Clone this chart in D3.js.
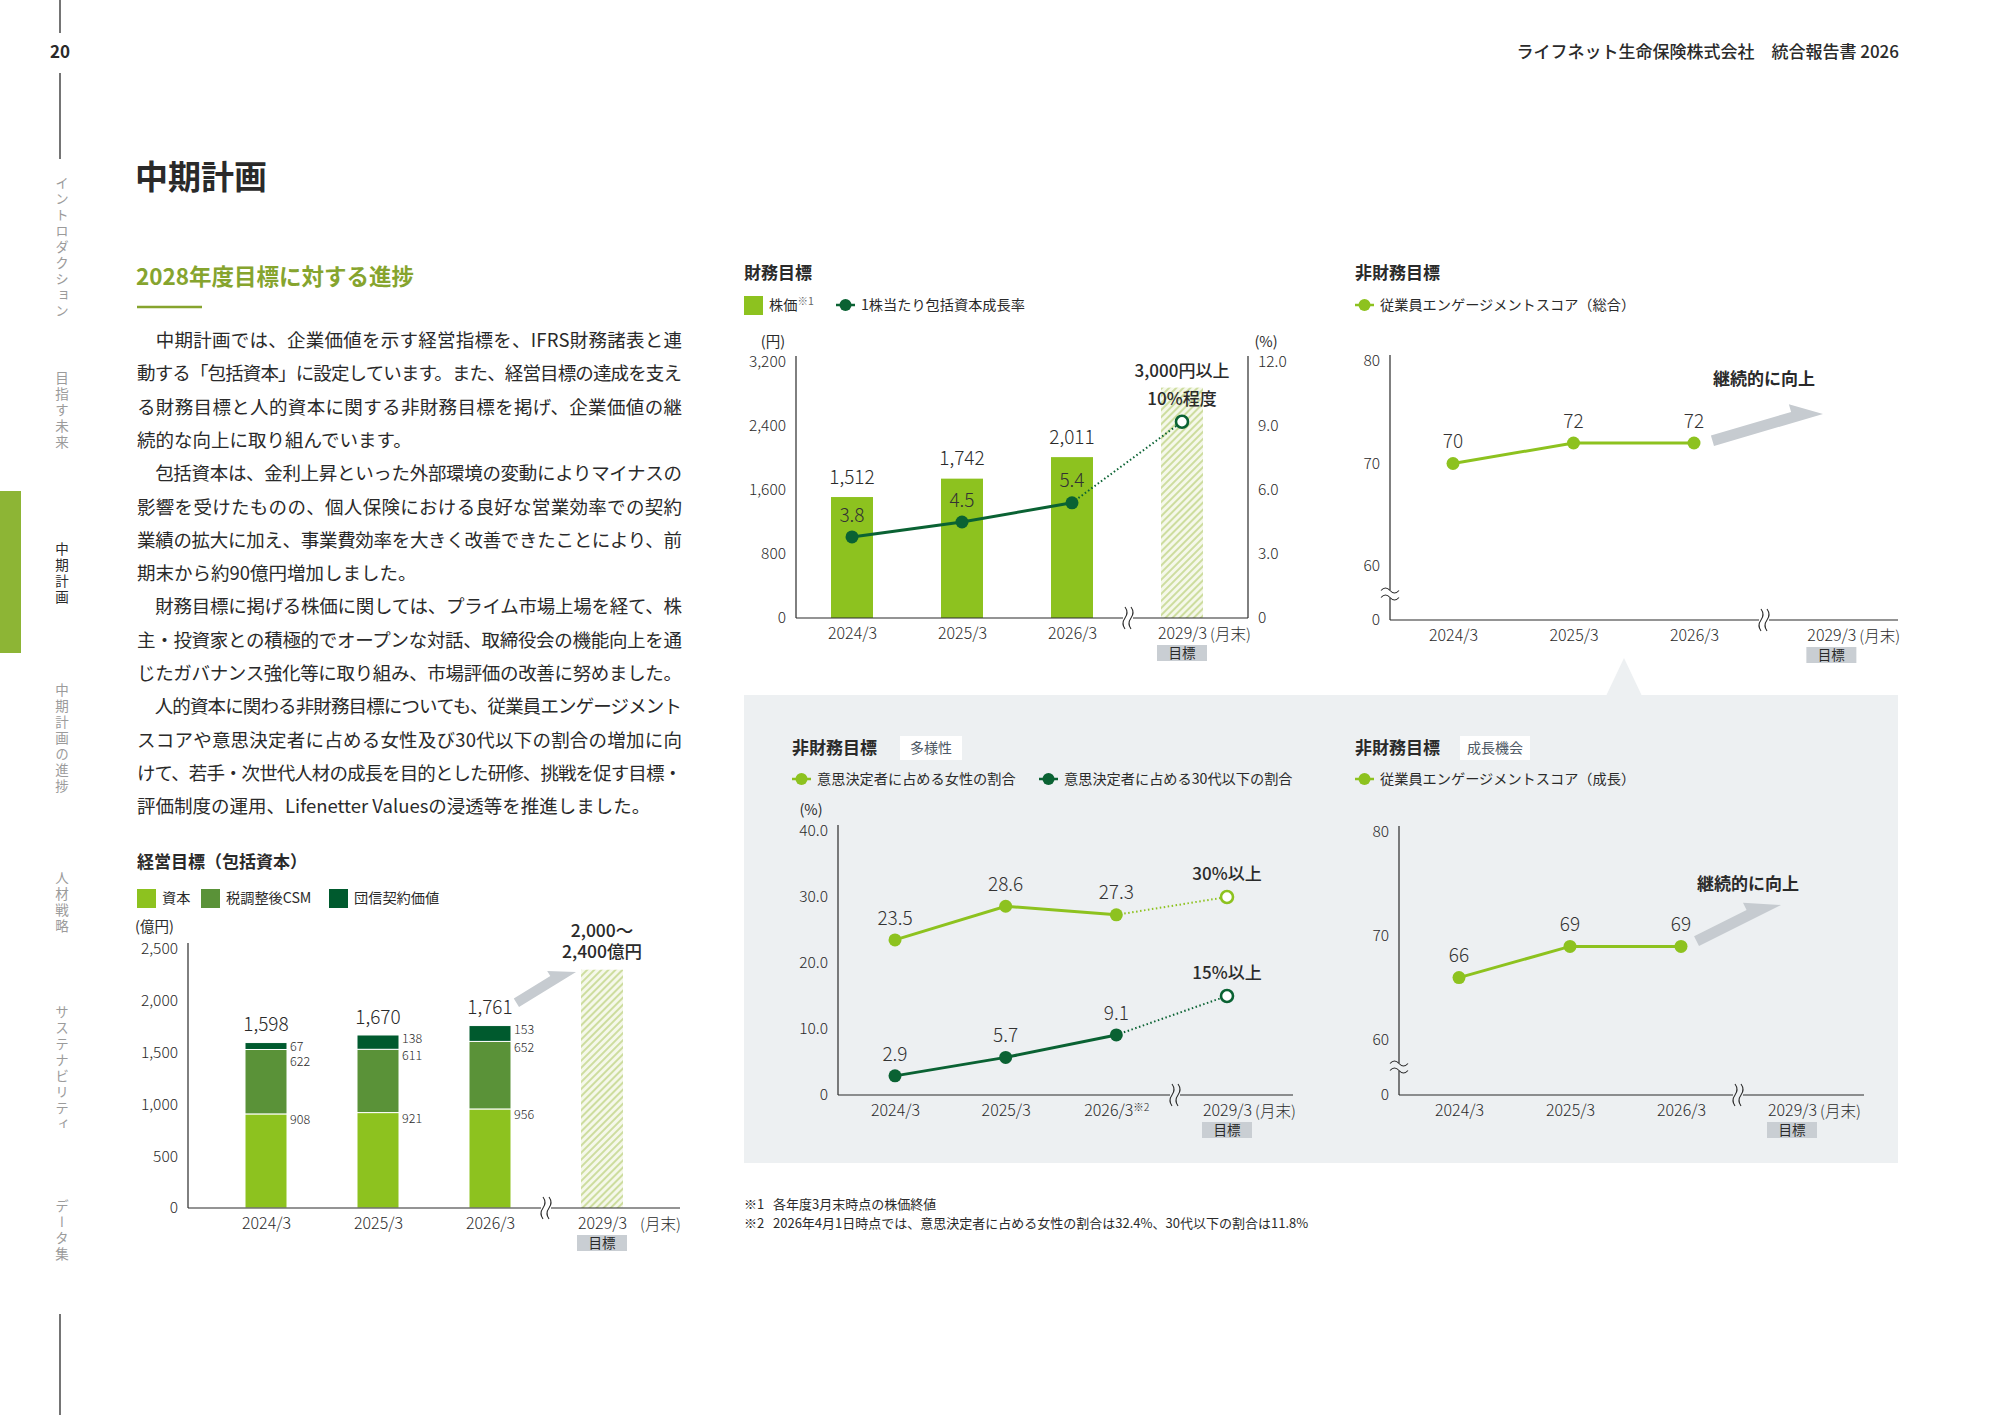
<!DOCTYPE html>
<html>
<head>
<meta charset="utf-8">
<script src="https://cdn.jsdelivr.net/npm/d3@7"></script>
<style>
  body { margin: 0; background: #fff; }
  svg { display: block; font-family: "Noto Sans CJK JP", "Noto Sans", sans-serif; }
</style>
</head>
<body>
<svg id="page" width="2000" height="1415"></svg>
<script>
'use strict';
// ---- chart data
const years = ['2024/3', '2025/3', '2026/3'];
const targetYear = '2029/3';

// 経営目標（包括資本）, 億円
const capitalBase = [908, 921, 956];
const capitalCsm = [622, 611, 652];
const capitalGroup = [67, 138, 153];
const capitalTotals = [1598, 1670, 1761];
const capitalTargetBar = 2300;
const capitalTargetText = ['2,000～', '2,400億円'];
const capitalTicks = [0, 500, 1000, 1500, 2000, 2500];

// 財務目標
const stockPrice = [1512, 1742, 2011];
const stockTargetBar = 2880;
const stockTicks = [0, 800, 1600, 2400, 3200];
const growthRate = [3.8, 4.5, 5.4];
const growthRateTarget = 9.2;
const rateTicks = [0, 3, 6, 9, 12];

// 非財務目標
const engageTotal = [70, 72, 72];
const engageGrowth = [66, 69, 69];
const engageTicks = [0, 60, 70, 80];
const womenShare = [23.5, 28.6, 27.3];
const womenTarget = 30;
const youngShare = [2.9, 5.7, 9.1];
const youngTarget = 15;
const diversityTicks = [0, 10, 20, 30, 40];

const bodyLines = [
    ['　中期計画では、企業価値を示す経営指標を、IFRS財務諸表と連', false],
    ['動する「包括資本」に設定しています。また、経営目標の達成を支え', false],
    ['る財務目標と人的資本に関する非財務目標を掲げ、企業価値の継', false],
    ['続的な向上に取り組んでいます。', true],
    ['　包括資本は、金利上昇といった外部環境の変動によりマイナスの', false],
    ['影響を受けたものの、個人保険における良好な営業効率での契約', false],
    ['業績の拡大に加え、事業費効率を大きく改善できたことにより、前', false],
    ['期末から約90億円増加しました。', true],
    ['　財務目標に掲げる株価に関しては、プライム市場上場を経て、株', false],
    ['主・投資家との積極的でオープンな対話、取締役会の機能向上を通', false],
    ['じたガバナンス強化等に取り組み、市場評価の改善に努めました。', false],
    ['　人的資本に関わる非財務目標についても、従業員エンゲージメント', false],
    ['スコアや意思決定者に占める女性及び30代以下の割合の増加に向', false],
    ['けて、若手・次世代人材の成長を目的とした研修、挑戦を促す目標・', false],
    ['評価制度の運用、Lifenetter Valuesの浸透等を推進しました。', true]
];

const navItems = [
    ['イントロダクション', 176, false],
    ['目指す未来', 371, false],
    ['中期計画', 542, true],
    ['中期計画の進捗', 683, false],
    ['人材戦略', 871, false],
    ['サステナビリティ', 1005, false],
    ['データ集', 1199, false]
];

const footnotes = [
    ['※1', '各年度3月末時点の株価終値'],
    ['※2', '2026年4月1日時点では、意思決定者に占める女性の割合は32.4%、30代以下の割合は11.8%']
];

const C = {
    lime: '#8dc21f', mid: '#5a9238', deep: '#005a2e', line: '#0a6233',
    ink: '#2a2a2a', soft: '#9b9b9b', olive: '#86a42e', panel: '#edf0f2',
    tag: '#c9ced3', arrow: '#c6cbd0'
};

const svg = d3.select('#page');
const defs = svg.append('defs');
const hatch = defs.append('pattern').attr('id', 'hatch')
    .attr('patternUnits', 'userSpaceOnUse').attr('width', 5).attr('height', 5)
    .attr('patternTransform', 'rotate(45)');
hatch.append('rect').attr('width', 5).attr('height', 5).attr('fill', '#f5f8ea');
hatch.append('line').attr('x1', 1).attr('y1', 0).attr('x2', 1).attr('y2', 5)
    .attr('stroke', '#c4d78c').attr('stroke-width', 1.6);

function txt(g, x, y, s, o) {
    o = o || {};
    return g.append('text').attr('x', x).attr('y', y).attr('dy', '0.35em')
        .attr('font-size', o.size || 14).attr('font-weight', o.weight || 400)
        .attr('fill', o.fill || C.ink).attr('text-anchor', o.anchor || 'start').text(s);
}

// wavy break on a horizontal axis
function xBreak(g, x, y, bg) {
    g.append('rect').attr('x', x - 5).attr('y', y - 2).attr('width', 10).attr('height', 4).attr('fill', bg);
    [-3, 3].forEach(function(dx) {
        g.append('path').attr('d', 'M' + (x + dx) + ',' + (y - 11) + ' q4,5.5 0,11 t0,11')
            .attr('fill', 'none').attr('stroke', C.ink).attr('stroke-width', 1.1);
    });
}
// wavy break on a vertical axis
function yBreak(g, x, y, bg) {
    g.append('rect').attr('x', x - 2).attr('y', y - 4).attr('width', 4).attr('height', 8).attr('fill', bg);
    [-3.5, 3.5].forEach(function(dy) {
        g.append('path').attr('d', 'M' + (x - 9) + ',' + (y + dy) + ' q4.5,-5 9,0 t9,0')
            .attr('fill', 'none').attr('stroke', C.ink).attr('stroke-width', 1.1);
    });
}

function blockArrow(g, x1, y1, x2, y2, w, head, barb) {
    const L = Math.hypot(x2 - x1, y2 - y1);
    const a = Math.atan2(y2 - y1, x2 - x1) * 180 / Math.PI;
    const pts = [[0, 0], [L, 0], [L - head, -w - barb], [L - head, -w], [0, -w]];
    g.append('polygon').attr('points', pts.map(function(p) { return p.join(','); }).join(' '))
        .attr('transform', 'translate(' + x1 + ',' + y1 + ') rotate(' + a + ')')
        .attr('fill', C.arrow);
}

function yAxis(g, y, ticks, x0, fmt, side) {
    const ax = (side === 'right' ? d3.axisRight(y) : d3.axisLeft(y))
        .tickValues(ticks).tickSize(0).tickPadding(10).tickFormat(fmt);
    const ga = g.append('g').attr('transform', 'translate(' + x0 + ',0)').call(ax);
    ga.attr('font-family', null).attr('font-size', 15.5);
    ga.select('.domain').remove();
    ga.selectAll('text').attr('fill', C.ink).attr('font-weight', 300);
    g.append('line').attr('x1', x0).attr('x2', x0)
        .attr('y1', y(d3.max(ticks)) - 6).attr('y2', y(0))
        .attr('stroke', C.ink).attr('stroke-width', 1.2);
}

// x axis over category index; the target sits at index tIdx
function xAxis(g, x, y0, x0, x1, tIdx, bg, opt) {
    opt = opt || {};
    const cats = years.concat([targetYear]);
    const idx = [0, 1, 2, tIdx];
    g.append('line').attr('x1', x0).attr('x2', x1).attr('y1', y0).attr('y2', y0)
        .attr('stroke', C.ink).attr('stroke-width', 1.2);
    const ax = d3.axisBottom(x).tickValues(idx).tickSize(0).tickPadding(10)
        .tickFormat(function(d, i) { return cats[i]; });
    const ga = g.append('g').attr('transform', 'translate(0,' + y0 + ')').call(ax);
    ga.attr('font-family', null).attr('font-size', 16);
    ga.select('.domain').remove();
    ga.selectAll('text').attr('fill', C.ink).attr('font-weight', 300);
    if (opt.note) {
        ga.selectAll('text').filter(function(d, i) { return i === 2; })
            .append('tspan').attr('font-size', 10.5).attr('dy', '-0.5em').text(opt.note);
    }
    const tx = x(tIdx);
    txt(g, tx + (opt.monthGap || 28), y0 + 17, '(月末)', { size: 15.5, weight: 300 });
    g.append('rect').attr('x', tx - 25).attr('y', y0 + 27).attr('width', 50).attr('height', 16).attr('fill', C.tag);
    txt(g, tx, y0 + 35, '目標', { size: 13.5, anchor: 'middle' });
    xBreak(g, opt.breakX, y0, bg);
}

function legendSwatch(g, x, y, color, label) {
    g.append('rect').attr('x', x).attr('y', y - 9).attr('width', 19).attr('height', 19).attr('fill', color);
    return txt(g, x + 25, y, label, { size: 14.2 });
}
function legendLine(g, x, y, color, label) {
    g.append('line').attr('x1', x).attr('x2', x + 19).attr('y1', y).attr('y2', y)
        .attr('stroke', color).attr('stroke-width', 2.5);
    g.append('circle').attr('cx', x + 9.5).attr('cy', y).attr('r', 6).attr('fill', color);
    return txt(g, x + 25, y, label, { size: 14.2 });
}

function lineSeries(g, x, y, values, color, target, targetLabel, tIdx) {
    const line = d3.line().x(function(d, i) { return x(i); }).y(function(d) { return y(d); });
    if (target != null) {
        g.append('line').attr('x1', x(values.length - 1)).attr('y1', y(values[values.length - 1]))
            .attr('x2', x(tIdx)).attr('y2', y(target))
            .attr('stroke', color).attr('stroke-width', 2).attr('stroke-dasharray', '1.5,2.5');
    }
    g.append('path').datum(values).attr('d', line)
        .attr('fill', 'none').attr('stroke', color).attr('stroke-width', 3);
    g.selectAll(null).data(values).join('circle')
        .attr('cx', function(d, i) { return x(i); }).attr('cy', function(d) { return y(d); })
        .attr('r', 6.5).attr('fill', color);
    g.selectAll(null).data(values).join('text')
        .attr('x', function(d, i) { return x(i); }).attr('y', function(d) { return y(d) - 22; })
        .attr('dy', '0.35em').attr('text-anchor', 'middle').attr('font-size', 19)
        .attr('font-weight', 300).attr('fill', '#333').text(function(d) { return d; });
    if (target != null) {
        g.append('circle').attr('cx', x(tIdx)).attr('cy', y(target)).attr('r', 6)
            .attr('fill', '#fff').attr('stroke', color).attr('stroke-width', 2.6);
        if (targetLabel) {
            txt(g, x(tIdx), y(target) - 23, targetLabel, { size: 17, weight: 500, anchor: 'middle' });
        }
    }
}

// ---- page frame
const frame = svg.append('g');
frame.append('line').attr('x1', 60).attr('x2', 60).attr('y1', 0).attr('y2', 33).attr('stroke', C.ink).attr('stroke-width', 1.3);
txt(frame, 60, 52, '20', { size: 17, weight: 700, anchor: 'middle' });
frame.append('line').attr('x1', 60).attr('x2', 60).attr('y1', 73).attr('y2', 159).attr('stroke', C.ink).attr('stroke-width', 1.3);
frame.append('line').attr('x1', 60).attr('x2', 60).attr('y1', 1314).attr('y2', 1415).attr('stroke', C.ink).attr('stroke-width', 1.3);
frame.append('rect').attr('x', 0).attr('y', 491).attr('width', 21).attr('height', 162).attr('fill', '#8db535');
navItems.forEach(function(n) {
    frame.append('text').attr('x', 62).attr('y', n[1])
        .style('writing-mode', 'vertical-rl').attr('letter-spacing', 2.5)
        .attr('font-size', 13.5).attr('fill', n[2] ? C.ink : C.soft).text(n[0]);
});
txt(frame, 1899, 52, 'ライフネット生命保険株式会社　統合報告書 2026', { size: 17, weight: 500, anchor: 'end' });

txt(frame, 135, 177, '中期計画', { size: 33, weight: 700 });
txt(frame, 136, 277, '2028年度目標に対する進捗', { size: 22.5, weight: 700, fill: C.olive });
frame.append('line').attr('x1', 137).attr('x2', 202).attr('y1', 307).attr('y2', 307).attr('stroke', C.olive).attr('stroke-width', 2.5);
bodyLines.forEach(function(l, i) {
    const t = frame.append('text').attr('x', 137).attr('y', 347 + i * 33.3)
        .attr('font-size', 18.5).attr('fill', C.ink).text(l[0]);
    if (!l[1]) t.attr('textLength', 545).attr('lengthAdjust', 'spacing');
});

// ---- 経営目標（包括資本）: stacked bars
const gCap = svg.append('g');
txt(gCap, 137, 862, '経営目標（包括資本）', { size: 17, weight: 700 });
legendSwatch(gCap, 137, 898, C.lime, '資本');
legendSwatch(gCap, 201, 898, C.mid, '税調整後CSM');
legendSwatch(gCap, 329, 898, C.deep, '団信契約価値');
txt(gCap, 135, 927, '(億円)', { size: 14.5 });

const capX = d3.scaleLinear().domain([0, 3]).range([266, 602]);
const capY = d3.scaleLinear().domain([0, 2500]).range([1208, 949]);
yAxis(gCap, capY, capitalTicks, 188, d3.format(','));

const capRows = years.map(function(y, i) {
    return { year: y, base: capitalBase[i], csm: capitalCsm[i], group: capitalGroup[i] };
});
const capKeys = ['base', 'csm', 'group'];
const capColor = d3.scaleOrdinal().domain(capKeys).range([C.lime, C.mid, C.deep]);
const stacked = d3.stack().keys(capKeys)(capRows);
const barW = 42;
gCap.selectAll('g.layer').data(stacked).join('g').attr('class', 'layer')
    .attr('fill', function(d) { return capColor(d.key); })
    .selectAll('rect').data(function(d) { return d; }).join('rect')
    .attr('x', function(d, i) { return capX(i) - barW / 2; })
    .attr('y', function(d) { return capY(d[1]); })
    .attr('width', barW)
    .attr('height', function(d) { return capY(d[0]) - capY(d[1]); })
    .attr('stroke', '#fff').attr('stroke-width', 1);
gCap.append('rect').attr('x', capX(3) - barW / 2).attr('y', capY(capitalTargetBar))
    .attr('width', barW).attr('height', capY(0) - capY(capitalTargetBar)).attr('fill', 'url(#hatch)');
capRows.forEach(function(r, i) {
    const lx = capX(i) + barW / 2 + 3;
    const top = r.base + r.csm + r.group;
    const gy = capY(top) + 4;
    const cy = Math.max(capY(r.base + r.csm) + 6, gy + 15);
    txt(gCap, lx, gy, r.group, { size: 12.5, weight: 300 });
    txt(gCap, lx, cy, r.csm, { size: 12.5, weight: 300 });
    txt(gCap, lx, capY(r.base) + 6, r.base, { size: 12.5, weight: 300 });
    txt(gCap, capX(i), capY(top) - 18, d3.format(',')(capitalTotals[i]), { size: 19, weight: 300, anchor: 'middle' });
});
txt(gCap, capX(3), capY(capitalTargetBar) - 39, capitalTargetText[0], { size: 17.5, weight: 500, anchor: 'middle' });
txt(gCap, capX(3), capY(capitalTargetBar) - 18, capitalTargetText[1], { size: 17.5, weight: 500, anchor: 'middle' });
blockArrow(gCap, 519, 1007, 576, 972, 10, 24, 6);
xAxis(gCap, capX, 1208, 188, 680, 3, '#fff', { breakX: 546, monthGap: 38 });

// ---- 財務目標: bars + growth rate line
const gFin = svg.append('g');
txt(gFin, 744, 273, '財務目標', { size: 17, weight: 700 });
legendSwatch(gFin, 744, 305, C.lime, '株価').append('tspan').attr('font-size', 10.5).attr('dy', '-0.5em').attr('fill', '#666').text('※1');
legendLine(gFin, 836, 305, C.line, '1株当たり包括資本成長率');
txt(gFin, 773, 342, '(円)', { size: 14.5, anchor: 'middle' });
txt(gFin, 1266, 342, '(%)', { size: 14.5, anchor: 'middle' });

const finX = d3.scaleLinear().domain([0, 3]).range([852, 1182]);
const finY = d3.scaleLinear().domain([0, 3200]).range([618, 362]);
const rateY = d3.scaleLinear().domain([0, 12]).range([618, 362]);
gFin.selectAll('rect.bar').data(stockPrice).join('rect').attr('class', 'bar')
    .attr('x', function(d, i) { return finX(i) - barW / 2; })
    .attr('y', function(d) { return finY(d); })
    .attr('width', barW).attr('height', function(d) { return finY(0) - finY(d); })
    .attr('fill', C.lime);
gFin.append('rect').attr('x', finX(3) - barW / 2).attr('y', finY(stockTargetBar))
    .attr('width', barW).attr('height', finY(0) - finY(stockTargetBar)).attr('fill', 'url(#hatch)');
gFin.selectAll('text.val').data(stockPrice).join('text').attr('class', 'val')
    .attr('x', function(d, i) { return finX(i); }).attr('y', function(d) { return finY(d) - 20; })
    .attr('dy', '0.35em').attr('text-anchor', 'middle').attr('font-size', 19).attr('font-weight', 300)
    .attr('fill', C.ink).text(d3.format(','));
yAxis(gFin, finY, stockTicks, 796, d3.format(','));
yAxis(gFin, rateY, rateTicks, 1248, function(d) { return d === 0 ? '0' : d3.format('.1f')(d); }, 'right');
lineSeries(gFin, finX, rateY, growthRate, C.line, growthRateTarget, '10%程度', 3);
txt(gFin, finX(3), 371, '3,000円以上', { size: 17, weight: 500, anchor: 'middle' });
xAxis(gFin, finX, 618, 796, 1248, 3, '#fff', { breakX: 1128 });

// ---- 非財務目標: engagement (total)
const gEng = svg.append('g');
txt(gEng, 1355, 273, '非財務目標', { size: 17, weight: 700 });
legendLine(gEng, 1355, 305, C.lime, '従業員エンゲージメントスコア（総合）');
const engX = d3.scaleLinear().domain([0, 2]).range([1453, 1694]);
const engY = d3.scaleLinear().domain([0, 60, 80]).range([620, 566, 361]);
yAxis(gEng, engY, engageTicks, 1390, d3.format('d'));
yBreak(gEng, 1390, 594, '#fff');
lineSeries(gEng, engX, engY, engageTotal, C.lime, null);
txt(gEng, 1764, 379, '継続的に向上', { size: 17, weight: 700, anchor: 'middle' });
blockArrow(gEng, 1714, 446, 1823, 414, 11, 30, 8);
xAxis(gEng, engX, 620, 1390, 1898, 3.14, '#fff', { breakX: 1764 });

// ---- lower panel
const gPanel = svg.append('g');
gPanel.append('rect').attr('x', 744).attr('y', 695).attr('width', 1154).attr('height', 468).attr('fill', C.panel);
gPanel.append('path').attr('d', 'M1606,696 L1624,658 L1642,696 Z').attr('fill', C.panel);

// 多様性
const gDiv = svg.append('g');
txt(gDiv, 792, 748, '非財務目標', { size: 17, weight: 700 });
gDiv.append('rect').attr('x', 900).attr('y', 736).attr('width', 62).attr('height', 24).attr('fill', '#fff');
txt(gDiv, 931, 748, '多様性', { size: 14, fill: '#4d5864', anchor: 'middle' });
legendLine(gDiv, 792, 779, C.lime, '意思決定者に占める女性の割合');
legendLine(gDiv, 1039, 779, C.line, '意思決定者に占める30代以下の割合');
txt(gDiv, 811, 810, '(%)', { size: 14.5, anchor: 'middle' });
const divX = d3.scaleLinear().domain([0, 3]).range([895, 1227]);
const divY = d3.scaleLinear().domain([0, 40]).range([1095, 831]);
yAxis(gDiv, divY, diversityTicks, 838, function(d) { return d === 0 ? '0' : d3.format('.1f')(d); });
lineSeries(gDiv, divX, divY, womenShare, C.lime, womenTarget, '30%以上', 3);
lineSeries(gDiv, divX, divY, youngShare, C.line, youngTarget, '15%以上', 3);
xAxis(gDiv, divX, 1095, 838, 1293, 3, C.panel, { breakX: 1175, note: '※2' });

// 成長機会
const gGro = svg.append('g');
txt(gGro, 1355, 748, '非財務目標', { size: 17, weight: 700 });
gGro.append('rect').attr('x', 1460).attr('y', 736).attr('width', 70).attr('height', 24).attr('fill', '#fff');
txt(gGro, 1495, 748, '成長機会', { size: 14, fill: '#4d5864', anchor: 'middle' });
legendLine(gGro, 1355, 779, C.lime, '従業員エンゲージメントスコア（成長）');
const groX = d3.scaleLinear().domain([0, 2]).range([1459, 1681]);
const groY = d3.scaleLinear().domain([0, 60, 80]).range([1095, 1040, 832]);
yAxis(gGro, groY, engageTicks, 1399, d3.format('d'));
yBreak(gGro, 1399, 1067, C.panel);
lineSeries(gGro, groX, groY, engageGrowth, C.lime, null);
txt(gGro, 1748, 884, '継続的に向上', { size: 17, weight: 700, anchor: 'middle' });
blockArrow(gGro, 1699, 946, 1781, 905, 11, 33, 8);
xAxis(gGro, groX, 1095, 1399, 1864, 3, C.panel, { breakX: 1738 });

// ---- footnotes
footnotes.forEach(function(f, i) {
    txt(svg, 744, 1204 + i * 19, f[0], { size: 13 });
    txt(svg, 773, 1204 + i * 19, f[1], { size: 13 });
});
</script>
</body>
</html>
